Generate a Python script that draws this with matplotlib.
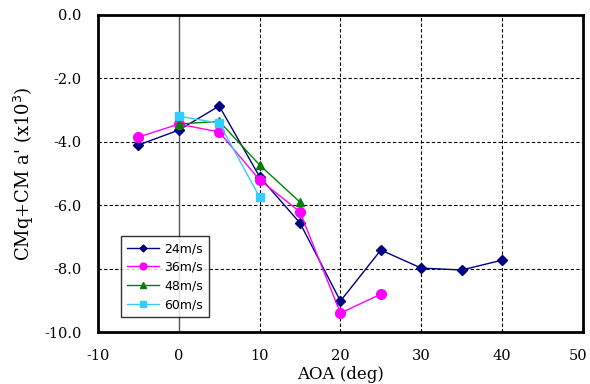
import matplotlib
matplotlib.use("Agg")
import matplotlib.pyplot as plt
import matplotlib.transforms as mtransforms

# data
aoa_24 = [-5, 0, 5, 10, 15, 20, 25, 30, 35, 40]
cm_24 = [-4.1, -3.63, -2.87, -5.1, -6.56, -9.02, -7.41, -7.98, -8.04, -7.73]

aoa_36 = [-5, 0, 5, 10, 15, 20, 25]
cm_36 = [-3.85, -3.44, -3.69, -5.2, -6.21, -9.4, -8.8]

aoa_48 = [0, 5, 10, 15]
cm_48 = [-3.44, -3.35, -4.73, -5.9]

aoa_60 = [0, 5, 10]
cm_60 = [-3.19, -3.41, -5.74]

serif = "DejaVu Serif"

fig = plt.figure(figsize=(5.9, 3.84), dpi=100)
ax = fig.add_axes([0.166, 0.135, 0.822, 0.826])

# grid
for gx in [10, 20, 30, 40]:
    ax.axvline(gx, color="black", linestyle=(0, (3, 2)), linewidth=0.8, zorder=1)
for gy in [-2, -4, -6, -8]:
    ax.axhline(gy, color="black", linestyle=(0, (3, 2)), linewidth=0.8, zorder=1)
ax.axvline(0, color="#555555", linewidth=1.0, zorder=1)

ax.plot(aoa_24, cm_24, color="#000080", marker="D", markersize=5, linewidth=1.0, label="24m/s", zorder=3)
ax.plot(aoa_36, cm_36, color="#FF00FF", marker="o", markersize=7, linewidth=1.0, label="36m/s", zorder=3)
ax.plot(aoa_48, cm_48, color="#008000", marker="^", markersize=6, linewidth=1.0, label="48m/s", zorder=3)
ax.plot(aoa_60, cm_60, color="#33CCFF", marker="s", markersize=6, linewidth=1.0, label="60m/s", zorder=3)

ax.set_xlim(-10, 50)
ax.set_ylim(-10, 0)
ax.set_xticks(range(-10, 51, 10))
ax.set_yticks([0, -2, -4, -6, -8, -10])
ax.set_yticklabels(["0.0", "-2.0", "-4.0", "-6.0", "-8.0", "-10.0"], family=serif, fontsize=10.5)
ax.set_xticklabels([str(v) for v in range(-10, 51, 10)], family=serif, fontsize=10.5)
ax.tick_params(length=0, pad=12)

# keep the "50" label inside the figure edge
last = ax.get_xticklabels()[-1]
last.set_transform(last.get_transform() + mtransforms.ScaledTranslation(-5 / 100, 0, fig.dpi_scale_trans))

for s in ax.spines.values():
    s.set_linewidth(2.0)

ax.set_xlabel("AOA (deg)", family=serif, fontsize=12, labelpad=2)
ax.set_ylabel("CMq+CM a' (x10$^3$)", family=serif, fontsize=13, labelpad=6)

leg = ax.legend(loc="lower left", bbox_to_anchor=(0.047, 0.047), borderaxespad=0, fontsize=9,
                frameon=True, fancybox=False, edgecolor="black", handlelength=2.6,
                markerscale=0.7, labelspacing=0.45, borderpad=0.5, handletextpad=0.4)
leg.get_frame().set_linewidth(1.0)

fig.savefig("out.png", dpi=100)
